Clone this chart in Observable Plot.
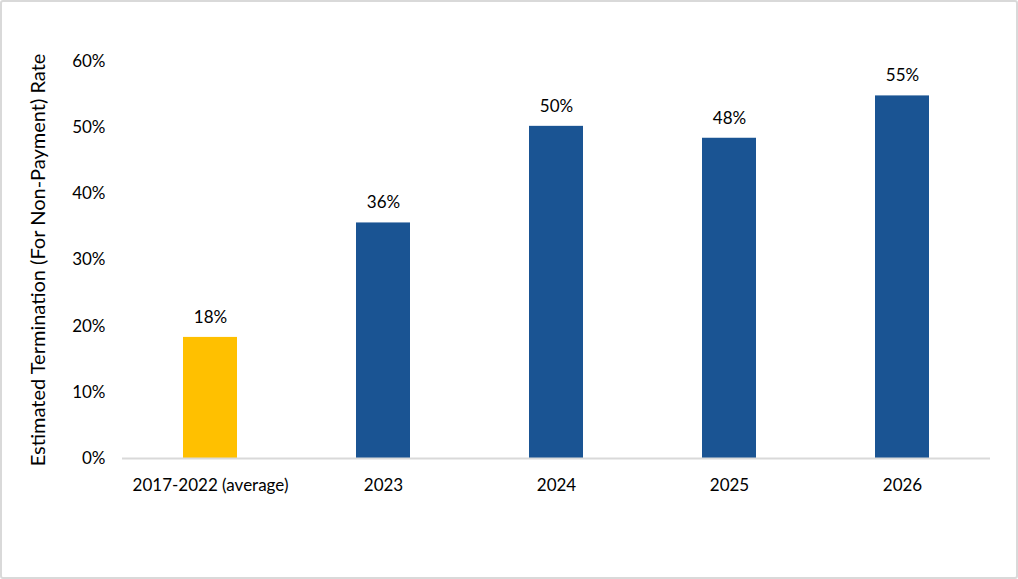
<!DOCTYPE html>
<html>
<head>
<meta charset="utf-8">
<script src="https://cdn.jsdelivr.net/npm/d3@7"></script>
<script src="https://cdn.jsdelivr.net/npm/@observablehq/plot@0.6"></script>
<style>
  html, body { margin: 0; padding: 0; background: #fff; }
  #wrap { position: relative; width: 1018px; height: 579px; overflow: hidden; }
  #wrap svg { position: absolute; left: 0; top: 0; }
  #border {
    position: absolute; left: 0; top: 0; width: 1018px; height: 579px;
    box-sizing: border-box; border: 2px solid #d9d9d9; border-radius: 3px;
    pointer-events: none;
  }
</style>
</head>
<body>
<div id="wrap"><div id="border"></div></div>
<script>
// Estimated termination (for non-payment) rate by period
const periods = ["2017-2022 (average)", "2023", "2024", "2025", "2026"];
const rates = [0.183, 0.356, 0.502, 0.484, 0.548];
const kinds = ["historical", "projected", "projected", "projected", "projected"];
const yTicks = [0, 0.1, 0.2, 0.3, 0.4, 0.5, 0.6];

const data = periods.map((p, i) => ({period: p, rate: rates[i], kind: kinds[i]}));
const pct = d3.format(".0%");

const chart = Plot.plot({
  width: 1018,
  height: 579,
  marginLeft: 122,
  marginRight: 28,
  marginTop: 61,
  marginBottom: 121,
  style: {fontFamily: "Lato, 'Open Sans', sans-serif", fontSize: "17px", color: "#000", background: "transparent"},
  x: {domain: periods, paddingInner: 0.69, paddingOuter: 0.345, label: null},
  y: {domain: [0, 0.6], label: null},
  color: {domain: ["historical", "projected"], range: ["#ffc000", "#1a5493"]},
  marks: [
    Plot.barY(data, {x: "period", y: "rate", fill: "kind"}),
    Plot.ruleY([0], {stroke: "#d9d9d9", strokeWidth: 2}),
    Plot.text(data, {x: "period", y: "rate", text: d => pct(d.rate), dy: -20, fontSize: 17, fill: "#000"}),
    Plot.axisX({tickSize: 0, tickPadding: 20, fontSize: 17, label: null}),
    Plot.axisY({
      ticks: yTicks, tickFormat: pct, tickSize: 0, tickPadding: 17, fontSize: 17,
      label: null
    }),
    Plot.axisY({
      ticks: [], label: "Estimated Termination (For Non-Payment) Rate",
      labelAnchor: "center", labelArrow: "none", labelOffset: 92, fontSize: 20
    })
  ]
});
chart.querySelectorAll("text").forEach(t => t.setAttribute("fill", "#000"));
document.getElementById("wrap").prepend(chart);
</script>
</body>
</html>
